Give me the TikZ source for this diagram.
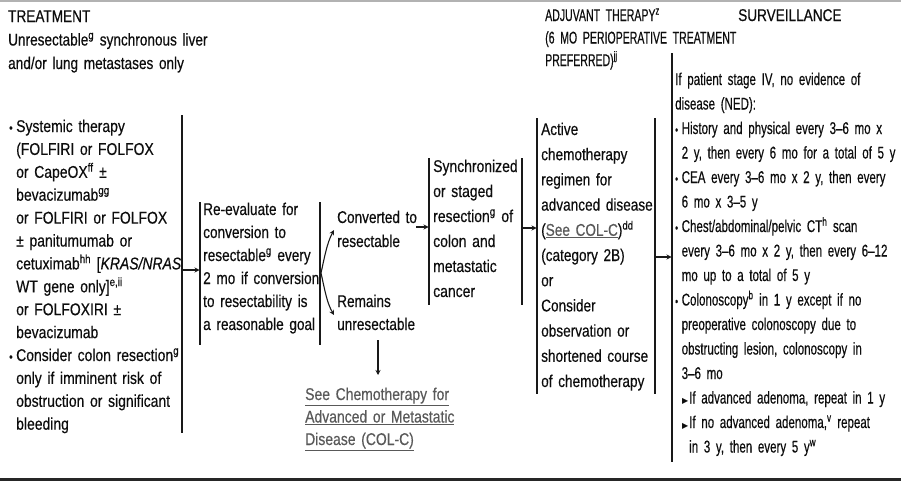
\documentclass[tikz,border=0pt]{standalone}
\usepackage{fontspec}
\setmainfont{Liberation Sans}[FakeStretch=0.80, FakeBold=0.35]
\newfontfamily\fnA{Liberation Sans}[FakeStretch=0.62, FakeBold=0.35]
\newfontfamily\fnL{Liberation Sans}[FakeStretch=0.82, FakeBold=0.35]
\newfontfamily\fnB{Liberation Sans}[FakeStretch=0.80, FakeBold=0.35]
\newfontfamily\fnS{Liberation Sans}[FakeStretch=0.68, FakeBold=0.35]
\newfontfamily\symfont{DejaVu Sans}
\usetikzlibrary{arrows.meta}
\hyphenpenalty=10000
\exhyphenpenalty=10000
\newcommand{\fz}[1]{\fontsize{17}{#1}\selectfont}
\newcommand{\bul}{\makebox[7pt][l]{\fontsize{12}{12}\selectfont\textbullet}}
\newcommand{\ind}{\hspace*{7pt}}
\newcommand{\svbu}{\makebox[6.5pt][l]{\fontsize{12}{12}\selectfont\textbullet}}
\newcommand{\svin}{\hspace*{6.5pt}}
\newcommand{\sbul}{\hspace*{7pt}\makebox[7pt][l]{\symfont\fontsize{8}{8}\selectfont ▶}}
\newcommand{\sind}{\hspace*{14pt}}
\newcommand{\sps}[1]{\textsuperscript{#1}}
\newcommand{\svfont}{\fnS\fz{24.5}}
\begin{document}
\begin{tikzpicture}[x=1pt,y=-1pt,
  rule/.style={line width=1.3pt, draw=black!90},
  arr/.style={line width=1.1pt, draw=black!90, -{Stealth[length=5pt,width=5pt]}},
  txt/.style={anchor=base west, inner sep=0pt, align=left, text width=#1, text=black!95},
  lnk/.style={text=black!65}
]
\useasboundingbox (0,0) rectangle (901,482);
\fill[white] (0,0) rectangle (901,482);
% page rules
\coordinate (topL) at (0,1); \coordinate (topR) at (901,1);
\coordinate (botL) at (0,479.5); \coordinate (botR) at (901,479.5);
\draw[line width=2pt, black!30] (topL) -- (topR);
\draw[line width=2.2pt, black!85] (botL) -- (botR);

% headers
\node[txt=220pt, font=\fz{23.5}] (hdrL) at (8,22)
  {TREATMENT\\Unresectable\sps{g} synchronous liver\\and/or lung metastases only};
\node[txt=200pt, font=\fnA\fz{22.5}] (hdrA) at (545,21)
  {ADJUVANT THERAPY\sps{z}\\(6 MO PERIOPERATIVE TREATMENT\\PREFERRED)\sps{jj}};
\node[txt=120pt, font=\fz{23}] (hdrS) at (738,21) {SURVEILLANCE};

% left column
\node[txt=172pt, font=\fnL\fz{22.9}] (lft) at (9,132)
  {\bul Systemic therapy\\
   \ind(FOLFIRI or FOLFOX\\
   \ind or CapeOX\sps{ff} ±\\
   \ind bevacizumab\sps{gg}\\
   \ind or FOLFIRI or FOLFOX\\
   \ind± panitumumab or\\
   \ind cetuximab\sps{hh} [\textit{KRAS/NRAS}\\
   \ind WT gene only]\sps{e,ii}\\
   \ind or FOLFOXIRI ±\\
   \ind bevacizumab\\
   \bul Consider colon resection\sps{g}\\
   \ind only if imminent risk of\\
   \ind obstruction or significant\\
   \ind bleeding};
\coordinate (lftT) at (182,115); \coordinate (lftB) at (182,433);
\draw[rule] (lftT) -- (lftB);

% re-evaluate box
\node[txt=118pt, font=\fz{23}] (reev) at (203,215)
  {Re-evaluate for\\conversion to\\resectable\sps{g} every\\2 mo if conversion\\to resectability is\\a reasonable goal};
\coordinate (reLT) at (200,202); \coordinate (reLB) at (200,345);
\coordinate (reRT) at (320,202); \coordinate (reRB) at (320,345);
\draw[rule] (reLT) -- (reLB);
\draw[rule] (reRT) -- (reRB);

% outcomes
\node[txt=90pt, font=\fz{24}] (conv) at (337,223) {Converted to\\resectable};
\node[txt=90pt, font=\fz{23}] (rem) at (337,307) {Remains\\unresectable};

% resection box
\node[txt=90pt, font=\fnL\fz{25}] (sync) at (433,172)
  {Synchronized\\or staged\\resection\sps{g} of\\colon and\\metastatic\\cancer};
\coordinate (syLT) at (429,158); \coordinate (syLB) at (429,305);
\coordinate (syRT) at (522,158); \coordinate (syRB) at (522,305);
\draw[rule] (syLT) -- (syLB);
\draw[rule] (syRT) -- (syRB);

% adjuvant box
\node[txt=118pt, font=\fnB\fz{25.2}] (adj) at (541,135)
  {Active\\chemotherapy\\regimen for\\advanced disease\\({\color{black!65}\underline{See COL-C}})\sps{dd}\\(category 2B)\\or\\Consider\\observation or\\shortened course\\of chemotherapy};
\coordinate (adLT) at (537,118); \coordinate (adLB) at (537,394);
\coordinate (adRT) at (655,118); \coordinate (adRB) at (655,394);
\draw[rule] (adLT) -- (adLB);
\draw[rule] (adRT) -- (adRB);

% surveillance
\node[txt=226pt, font=\svfont] (surv) at (675,85)
  {If patient stage IV, no evidence of\\
   disease (NED):\\
   \svbu History and physical every 3–6 mo x\\
   \svin 2 y, then every 6 mo for a total of 5 y\\
   \svbu CEA every 3–6 mo x 2 y, then every\\
   \svin 6 mo x 3–5 y\\
   \svbu Chest/abdominal/pelvic CT\sps{h} scan\\
   \svin every 3–6 mo x 2 y, then every 6–12\\
   \svin mo up to a total of 5 y\\
   \svbu Colonoscopy\sps{b} in 1 y except if no\\
   \svin preoperative colonoscopy due to\\
   \svin obstructing lesion, colonoscopy in\\
   \svin 3–6 mo\\
   \sbul If advanced adenoma, repeat in 1 y\\
   \sbul If no advanced adenoma,\sps{v} repeat\\
   \sind in 3 y, then every 5 y\sps{w}};
\coordinate (svT) at (672,53); \coordinate (svB) at (672,462);
\draw[rule] (svT) -- (svB);

% link
\node[txt=160pt, font=\fnL\fz{22.5}, lnk] (see) at (305,400)
  {\underline{See Chemotherapy for}\\\underline{Advanced or Metastatic}\\\underline{Disease (COL-C)}};

% arrows
\coordinate (a1s) at (182,270); \coordinate (a1e) at (199.5,270);
\draw[arr] (a1s) -- (a1e);
\coordinate (fork) at (321,273);
\coordinate (forkU) at (334,230); \coordinate (forkD) at (334,315);
\draw[arr] (fork) .. controls (325,255) and (327,243) .. (forkU);
\draw[arr] (fork) .. controls (325,291) and (327,303) .. (forkD);
\coordinate (a3s) at (416,227); \coordinate (a3e) at (428.5,227);
\draw[arr] (a3s) -- (a3e);
\coordinate (a4s) at (523,228); \coordinate (a4e) at (536.5,228);
\draw[arr] (a4s) -- (a4e);
\coordinate (a5s) at (656,257); \coordinate (a5e) at (671.5,257);
\draw[arr] (a5s) -- (a5e);
\coordinate (a6s) at (378,340); \coordinate (a6e) at (378,375);
\draw[arr] (a6s) -- (a6e);
\end{tikzpicture}
\end{document}
